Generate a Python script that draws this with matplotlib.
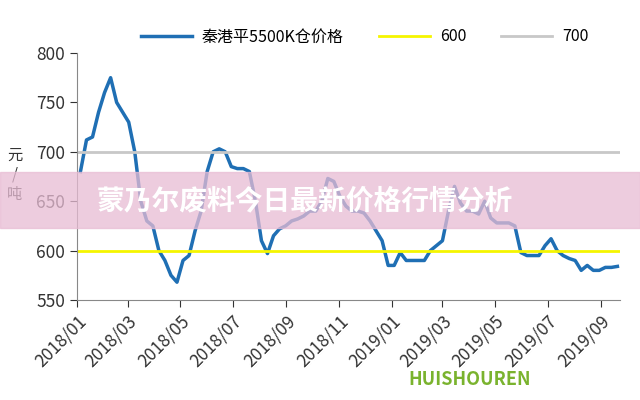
import matplotlib
matplotlib.use("Agg")
import matplotlib.pyplot as plt
import numpy as np
import pandas as pd

plt.rcParams["font.family"] = ["Noto Sans CJK SC", "DejaVu Sans"]

start_date = "2018-01-05"
prices = [680, 712, 715, 740, 760, 775, 750, 740, 730, 700, 650, 630, 625, 600, 590, 575, 568,
          590, 595, 620, 640, 680, 700, 703, 700, 685, 683, 683, 680, 650, 610, 597, 615, 622,
          625, 630, 632, 635, 640, 640, 650, 673, 670, 655, 645, 640, 640, 638, 630, 620, 610,
          585, 585, 598, 590, 590, 590, 590, 600, 605, 610, 640, 665, 648, 640, 640, 637, 650,
          633, 628, 628, 628, 625, 598, 595, 595, 595, 605, 612, 600, 595, 592, 590, 580, 585,
          580, 580, 583, 583, 584]
tick_labels = ["2018/01", "2018/03", "2018/05", "2018/07", "2018/09", "2018/11",
               "2019/01", "2019/03", "2019/05", "2019/07", "2019/09"]
yticks = [550, 600, 650, 700, 750, 800]

dates = pd.date_range(start_date, periods=len(prices), freq="7D")
tick_dates = pd.to_datetime([t.replace("/", "-") + "-01" for t in tick_labels])

fig = plt.figure(figsize=(6.4, 4), dpi=100)
ax = fig.add_axes([77/640, 1-300/400, 543/640, 247/400])
ax.plot(dates, prices, color="#1f6fb4", lw=2.5, label="秦港平5500K仓价格")
ax.axhline(600, color="#f5f500", lw=2, label="600")
ax.axhline(700, color="#c8c8c8", lw=2, label="700")
ax.set_ylim(550, 800)
ax.set_xlim(pd.Timestamp("2018-01-01"), dates[-1] + pd.Timedelta(days=3))
ax.set_yticks(yticks)
ax.set_xticks(tick_dates)
ax.set_xticklabels(tick_labels, rotation=45, ha="right", rotation_mode="anchor")
ax.tick_params(labelsize=12.5, colors="#333333", direction="out", length=5)
for s in ["top", "right"]:
    ax.spines[s].set_visible(False)
for s in ["left", "bottom"]:
    ax.spines[s].set_color("#888888")
ax.legend(loc="center", bbox_to_anchor=(0.53, 1.065), ncol=3, frameon=False,
          fontsize=11.5, handlelength=3.2, columnspacing=2.2, handletextpad=0.6)
fig.text(15/640, 1-175/400, "元\n/\n吨", fontsize=11, ha="center", va="center", color="#333333")

fig.patches.append(plt.Rectangle((0, 1-228/400), 1, 56/400, transform=fig.transFigure,
                                 color="#e8bcd4", alpha=0.75, zorder=10))
fig.text(97/640, 1-201/400, "蒙乃尔废料今日最新价格行情分析", fontsize=20, fontweight="bold",
         color="white", va="center", zorder=11)
fig.text(470/640, 1-385/400, "HUISHOUREN", fontsize=13, fontweight="bold", style="italic",
         color="#7ab32e", ha="center", zorder=11)
fig.savefig("out.png", dpi=100)
